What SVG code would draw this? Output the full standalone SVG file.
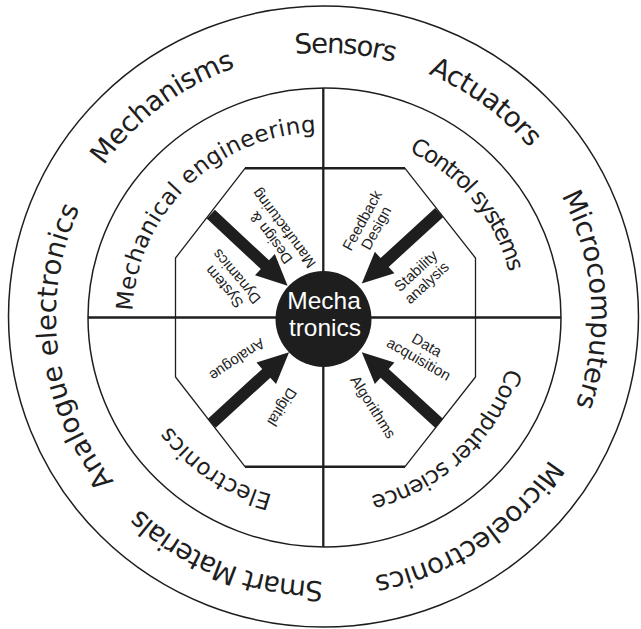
<svg xmlns="http://www.w3.org/2000/svg" xmlns:xlink="http://www.w3.org/1999/xlink" width="641" height="629" viewBox="0 0 641 629">
  <style>
    .ring { fill: none; stroke: #1e1e1e; stroke-width: 1.5; }
    .axis { stroke: #1e1e1e; stroke-width: 2.3; fill: none; }
    .oct { fill: none; stroke: #1e1e1e; stroke-width: 1.3; stroke-linejoin: miter; }
    .octbar { stroke: #1e1e1e; stroke-width: 2.6; }
    .arrow { fill: #1e1e1e; }
    .outer { font-family: "DejaVu Sans", "Liberation Sans", sans-serif; font-size: 27.5px; fill: #1e1e1e; }
    .inner { font-family: "DejaVu Sans", "Liberation Sans", sans-serif; font-size: 23px; fill: #1e1e1e; }
    .small { font-family: "Liberation Sans", Arial, sans-serif; font-size: 15px; fill: #1e1e1e; text-anchor: middle; }
    .hub { font-family: "Liberation Sans", Arial, sans-serif; font-size: 24.5px; fill: #ffffff; text-anchor: middle; }
  </style>
  <defs>
    <!-- arrow pointing along +x, tail at origin, tip at x=105 -->
    <path id="arrowShape" d="M0,-6 L74,-6 L74,-14.5 L105,0 L74,14.5 L74,6 L0,6 Z"/>
    <!-- clockwise baseline arcs for the ring labels -->
    <path id="pMechanisms" d="M97.5,458.8 A268,264 0 0 1 521.1,138.6"/>
    <path id="pSensors" d="M59.3,272.5 A268,264 0 0 1 591.5,315.6"/>
    <path id="pActuators" d="M124.3,140.4 A268,264 0 0 1 550.8,456.9"/>
    <path id="pMicrocomputers" d="M329.1,53.1 A268,264 0 0 1 364.5,577.9"/>
    <path id="pMicroelectronics" d="M556.8,187.0 A268,264 0 0 1 116.7,484.9"/>
    <path id="pSmart" d="M562.3,436.9 A268,264 0 0 1 67.2,239.8"/>
    <path id="pAnalogueEl" d="M332.9,580.8 A268,264 0 0 1 267.8,58.8"/>
    <path id="pMechEng" d="M178.7,437.6 A191,185 0 0 1 444.5,173.8"/>
    <path id="pControl" d="M219.5,161.8 A191,185 0 0 1 453.8,452.3"/>
    <path id="pComputer" d="M470.2,198.6 A191,185 0 0 1 200.2,458.3"/>
    <path id="pElectronics" d="M468.9,436.9 A191,185 0 0 1 158.8,223.4"/>
  </defs>

  <!-- rings -->
  <g id="rings">
    <ellipse class="ring" cx="323.5" cy="316.5" rx="315" ry="310.5"/>
    <ellipse class="ring" cx="324.5" cy="317.5" rx="236.5" ry="229.5"/>
  </g>

  <!-- quadrant dividers -->
  <g id="dividers">
    <line class="axis" x1="88" y1="317.5" x2="561" y2="317.5"/>
    <line class="axis" x1="323.3" y1="88" x2="323.3" y2="547"/>
  </g>

  <!-- core octagon -->
  <g id="octagon">
    <polygon class="oct" points="245,168.3 405,168.3 475.5,258 475.5,377 405,466.7 245,466.7 175.5,377 175.5,258"/>
    <line class="octbar" x1="245" y1="168.3" x2="405" y2="168.3"/>
    <line class="octbar" x1="245" y1="466.7" x2="405" y2="466.7"/>
  </g>

  <!-- contributions flowing into the hub -->
  <g id="connectors">
    <use class="arrow" xlink:href="#arrowShape" transform="translate(210.8,214.2) rotate(43)"/>
    <use class="arrow" xlink:href="#arrowShape" transform="translate(439.2,212.5) rotate(137.5)"/>
    <use class="arrow" xlink:href="#arrowShape" transform="translate(211.7,423.3) rotate(-42.5)"/>
    <use class="arrow" xlink:href="#arrowShape" transform="translate(439.2,423.3) rotate(-137.5)"/>
  </g>

  <!-- hub -->
  <g id="hub">
    <circle cx="323.5" cy="319" r="48" fill="#1e1e1e"/>
    <text class="hub" x="324" y="309">Mecha</text>
    <text class="hub" x="325" y="336">tronics</text>
  </g>

  <!-- outer ring: technologies -->
  <g id="outer-labels">
    <g id="mechanisms"><text class="outer"><textPath xlink:href="#pMechanisms" startOffset="50%" text-anchor="middle" textLength="167">Mechanisms</textPath></text></g>
    <g id="sensors"><text class="outer"><textPath xlink:href="#pSensors" startOffset="50%" text-anchor="middle" textLength="100">Sensors</textPath></text></g>
    <g id="actuators"><text class="outer"><textPath xlink:href="#pActuators" startOffset="50%" text-anchor="middle" textLength="127">Actuators</textPath></text></g>
    <g id="microcomputers"><text class="outer"><textPath xlink:href="#pMicrocomputers" startOffset="50%" text-anchor="middle" textLength="217">Microcomputers</textPath></text></g>
    <g id="microelectronics"><text class="outer"><textPath xlink:href="#pMicroelectronics" startOffset="50%" text-anchor="middle" textLength="217">Microelectronics</textPath></text></g>
    <g id="smart-materials"><text class="outer"><textPath xlink:href="#pSmart" startOffset="50%" text-anchor="middle" textLength="202">Smart Materials</textPath></text></g>
    <g id="analogue-electronics"><text class="outer"><textPath xlink:href="#pAnalogueEl" startOffset="50%" text-anchor="middle" textLength="290">Analogue electronics</textPath></text></g>
  </g>

  <!-- inner ring: disciplines -->
  <g id="inner-labels">
    <g id="mechanical-engineering"><text class="inner"><textPath xlink:href="#pMechEng" startOffset="50%" text-anchor="middle" textLength="282">Mechanical engineering</textPath></text></g>
    <g id="control-systems"><text class="inner"><textPath xlink:href="#pControl" startOffset="50%" text-anchor="middle" textLength="162">Control systems</textPath></text></g>
    <g id="computer-science"><text class="inner"><textPath xlink:href="#pComputer" startOffset="50%" text-anchor="middle" textLength="196">Computer science</textPath></text></g>
    <g id="electronics"><text class="inner"><textPath xlink:href="#pElectronics" startOffset="50%" text-anchor="middle" textLength="126">Electronics</textPath></text></g>
  </g>

  <!-- octagon sector labels -->
  <g id="sector-labels">
    <g id="design-manufacturing" transform="translate(277,233.3) rotate(-127)">
      <text class="small" x="0" y="-2.5">Design &amp;</text>
      <text class="small" x="0" y="13.5">Manufacturing</text>
    </g>
    <g id="system-dynamics" transform="translate(230,282) rotate(-130)">
      <text class="small" x="0" y="-2.5">System</text>
      <text class="small" x="0" y="13.5">Dynamics</text>
    </g>
    <g id="feedback-design" transform="translate(368.8,224) rotate(-61.5)">
      <text class="small" x="0" y="-2.5">Feedback</text>
      <text class="small" x="0" y="13.5">Design</text>
    </g>
    <g id="stability-analysis" transform="translate(421,276.5) rotate(-42.6)">
      <text class="small" x="0" y="-2.5">Stability</text>
      <text class="small" x="0" y="13.5">analysis</text>
    </g>
    <g id="analogue" transform="translate(237.3,360) rotate(146)">
      <text class="small" x="0" y="5.4">Analogue</text>
    </g>
    <g id="digital" transform="translate(282.3,407.3) rotate(122)">
      <text class="small" x="0" y="5.4">Digital</text>
    </g>
    <g id="data-acquisition" transform="translate(423,351.7) rotate(30)">
      <text class="small" x="0" y="-2.5">Data</text>
      <text class="small" x="0" y="13.5">acquisition</text>
    </g>
    <g id="algorithms" transform="translate(373.3,406.7) rotate(57.7)">
      <text class="small" x="0" y="5.4">Algorithms</text>
    </g>
  </g>
</svg>
